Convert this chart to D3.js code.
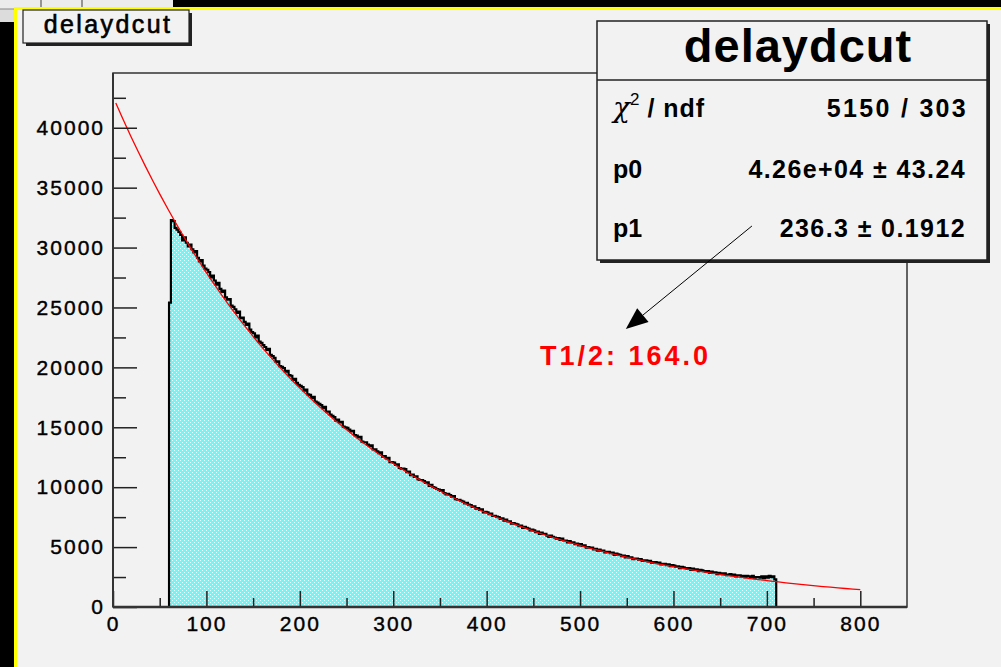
<!DOCTYPE html>
<html>
<head>
<meta charset="utf-8">
<script src="https://cdn.jsdelivr.net/npm/d3@7"></script>
<style>
  body { margin: 0; background: #f2f2f2; }
  svg { display: block; font-family: "Liberation Sans", Arial, sans-serif; }
</style>
</head>
<body>
<div id="chart"></div>
<script>
// histogram "delaydcut" : bins of width 2 starting at 60
var binLow = 60, binWidth = 2;
var counts = [
  25400, 32300, 32200, 31650, 31500,
  31300, 31050, 30600, 30850, 30400,
  30100, 30250, 29850, 29600, 29700,
  29150, 28850, 28950, 28500, 28250,
  28150, 27950, 27500, 27650, 27250,
  26900, 27050, 26550, 26300, 26400,
  25850, 25650, 25700, 25150, 25050,
  24850, 24550, 24650, 24100, 24150,
  23800, 23550, 23650, 23150, 22950,
  22850, 22500, 22650, 22150, 22050,
  21850, 21700, 21450, 21550, 21050,
  20950, 20800, 20450, 20500, 20100,
  20050, 19950, 19650, 19700, 19350,
  19300, 18950, 19050, 18700, 18550,
  18450, 18350, 18050, 18150, 17750,
  17700, 17450, 17550, 17150, 17050,
  16950, 16850, 16600, 16700, 16300,
  16300, 16050, 15950, 15850, 15550,
  15650, 15400, 15450, 15050, 15000,
  14950, 14800, 14650, 14700, 14350,
  14300, 14150, 14200, 13800, 13750,
  13750, 13550, 13450, 13500, 13150,
  13150, 13000, 12850, 12900, 12550,
  12600, 12400, 12450, 12100, 12100,
  12050, 11850, 11900, 11600, 11550,
  11550, 11500, 11250, 11300, 11000,
  11050, 10850, 10900, 10650, 10600,
  10600, 10500, 10350, 10400, 10100,
  10200, 10000,  9950,  9850,  9800,
   9700,  9750,  9500,  9400,  9450,
   9350,  9200,  9250,  9000,  8950,
   8950,  8850,  8800,  8650,  8700,
   8550,  8500,  8350,  8400,  8200,
   8250,  8100,  8150,  7900,  7950,
   7900,  7750,  7800,  7600,  7600,
   7550,  7500,  7350,  7400,  7200,
   7300,  7150,  7150,  6950,  7000,
   6950,  6900,  6750,  6800,  6600,
   6700,  6600,  6550,  6400,  6450,
   6400,  6250,  6300,  6100,  6200,
   6100,  6100,  5950,  5850,  5950,
   5850,  5800,  5700,  5750,  5600,
   5700,  5550,  5550,  5400,  5500,
   5400,  5400,  5250,  5300,  5150,
   5250,  5100,  5150,  4950,  5000,
   4950,  4950,  4800,  4850,  4700,
   4800,  4700,  4700,  4550,  4600,
   4600,  4500,  4550,  4350,  4450,
   4400,  4350,  4250,  4300,  4150,
   4250,  4150,  4150,  4000,  4050,
   4050,  3950,  4000,  3850,  3900,
   3900,  3800,  3850,  3700,  3750,
   3750,  3650,  3700,  3550,  3600,
   3600,  3500,  3550,  3400,  3500,
   3450,  3350,  3400,  3250,  3350,
   3300,  3250,  3200,  3250,  3100,
   3200,  3100,  3150,  3000,  3100,
   3050,  3000,  2950,  3000,  2850,
   2950,  2850,  2900,  2750,  2850,
   2800,  2750,  2800,  2650,  2700,
   2750,  2650,  2700,  2550,  2650,
   2650,  2550,  2600,  2500,  2600,
   2550,  2500,  2600,  2450,  2500,
   2500,  2450,  2550,  2400,  2550,
   2450,  2600,  2500,  2550,  2300
];

// fit: p0 * exp(-x / p1)
var fitP0 = 42600, fitP1 = 236.3;
var fitFrom = 3, fitTo = 800;

var xTicksMajor = [0, 100, 200, 300, 400, 500, 600, 700, 800];
var xTicksMinor = [50, 150, 250, 350, 450, 550, 650, 750];
var yTicksMajor = [0, 5000, 10000, 15000, 20000, 25000, 30000, 35000, 40000];
var yTicksMinor = [2500, 7500, 12500, 17500, 22500, 27500, 32500, 37500, 42500];

var histTitle = "delaydcut";
var statsRows = [
  ["p0", "4.26e+04 \u00b1 43.24"],
  ["p1", "236.3 \u00b1 0.1912"]
];
var chiText = "5150 / 303";
var halfLifeLabel = "T1/2: 164.0";

/*.............................................................................
          canvas + window chrome
..............................................................................*/
var W = 1001, H = 667;
var svg = d3.select("#chart").append("svg")
    .attr("width", W)
    .attr("height", H);

svg.append("rect").attr("width", W).attr("height", H).attr("fill", "#f2f2f2");

// toolbar strip at the top, black border left, yellow canvas border
svg.append("rect").attr("x", 0).attr("y", 0).attr("width", W).attr("height", 7).attr("fill", "#000");
svg.append("rect").attr("x", 0).attr("y", 0).attr("width", 173).attr("height", 9).attr("fill", "#ececec");
svg.append("line").attr("x1", 41).attr("x2", 41).attr("y1", 0).attr("y2", 7).attr("stroke", "#777").attr("stroke-width", 1.5);
svg.append("line").attr("x1", 82).attr("x2", 82).attr("y1", 0).attr("y2", 7).attr("stroke", "#777").attr("stroke-width", 1.5);
svg.append("rect").attr("x", 0).attr("y", 9).attr("width", 14).attr("height", 13).attr("fill", "#dcdcdc");
svg.append("line").attr("x1", 0).attr("x2", 14).attr("y1", 9).attr("y2", 9).attr("stroke", "#888");
svg.append("rect").attr("x", 0).attr("y", 22).attr("width", 14).attr("height", H - 22).attr("fill", "#000");
svg.append("rect").attr("x", 14).attr("y", 7).attr("width", W - 14).attr("height", 3).attr("fill", "#ffff00");
svg.append("rect").attr("x", 14).attr("y", 7).attr("width", 3).attr("height", H - 7).attr("fill", "#ffff00");

/*.............................................................................
          frame + scales
..............................................................................*/
var frame = { left: 113, top: 73, right: 907, bottom: 607 };

var x = d3.scaleLinear().domain([0, 850]).range([frame.left, frame.right]);
var y = d3.scaleLinear().domain([0, 44570]).range([frame.bottom, frame.top]);

var defs = svg.append("defs");
var pat = defs.append("pattern")
    .attr("id", "dots")
    .attr("patternUnits", "userSpaceOnUse")
    .attr("width", 4).attr("height", 4);
pat.append("rect").attr("width", 4).attr("height", 4).attr("fill", "#66fafa");
pat.append("rect").attr("x", 0).attr("y", 0).attr("width", 1).attr("height", 1).attr("fill", "#f4ffff");
pat.append("rect").attr("x", 2).attr("y", 2).attr("width", 1).attr("height", 1).attr("fill", "#f4ffff");

// frame box (top / right thin)
svg.append("rect")
    .attr("x", frame.left).attr("y", frame.top)
    .attr("width", frame.right - frame.left).attr("height", frame.bottom - frame.top)
    .attr("fill", "#f2f2f2")
    .attr("stroke", "#333")
    .attr("stroke-width", 1.5);

/*.............................................................................
          histogram
..............................................................................*/
var bins = counts.map(function(c, i) { return { x: binLow + i * binWidth, v: c }; });
var binHigh = binLow + counts.length * binWidth;

var areaPts = bins.concat([{ x: binHigh, v: counts[counts.length - 1] }]);
svg.append("path")
    .datum(areaPts)
    .attr("fill", "url(#dots)")
    .attr("d", d3.area()
        .curve(d3.curveStepAfter)
        .x(function(d) { return x(d.x); })
        .y0(y(0))
        .y1(function(d) { return y(d.v); }));

var outlinePts = [{ x: binLow, v: 0 }].concat(areaPts).concat([{ x: binHigh, v: 0 }]);
svg.append("path")
    .datum(outlinePts)
    .attr("fill", "none")
    .attr("stroke", "#000")
    .attr("stroke-width", 2.2)
    .attr("stroke-linejoin", "miter")
    .attr("d", d3.line()
        .curve(d3.curveStepAfter)
        .x(function(d) { return x(d.x); })
        .y(function(d) { return y(d.v); }));

// fit curve, sampled like ROOT does (100 steps)
var fitPts = d3.range(0, 101).map(function(i) {
  var xv = fitFrom + (fitTo - fitFrom) * i / 100;
  return [xv, fitP0 * Math.exp(-xv / fitP1)];
});
svg.append("path")
    .datum(fitPts)
    .attr("fill", "none")
    .attr("stroke", "#ff0000")
    .attr("stroke-width", 1.3)
    .attr("d", d3.line()
        .x(function(d) { return x(d[0]); })
        .y(function(d) { return y(d[1]); }));

/*.............................................................................
          axes (ticks drawn inside the frame)
..............................................................................*/
function styleAxis(g) {
  g.select(".domain").remove();
  g.selectAll(".tick line").attr("stroke", "#222").attr("stroke-width", 1.5);
  g.selectAll(".tick text")
      .attr("fill", "#000")
      .attr("stroke", "#000")
      .attr("stroke-width", 0.4)
      .style("font-size", "21px")
      .style("letter-spacing", "2px");
}

svg.append("g")
    .attr("transform", "translate(0," + frame.bottom + ")")
    .call(d3.axisBottom(x).tickValues(xTicksMinor).tickSize(-9).tickFormat(""))
    .call(styleAxis);
svg.append("g")
    .attr("transform", "translate(0," + frame.bottom + ")")
    .call(d3.axisBottom(x).tickValues(xTicksMajor).tickSize(-16).tickPadding(9).tickFormat(d3.format("d")))
    .call(styleAxis);

svg.append("g")
    .attr("transform", "translate(" + frame.left + ",0)")
    .call(d3.axisLeft(y).tickValues(yTicksMinor).tickSize(-13).tickFormat(""))
    .call(styleAxis);
svg.append("g")
    .attr("transform", "translate(" + frame.left + ",0)")
    .call(d3.axisLeft(y).tickValues(yTicksMajor).tickSize(-24).tickPadding(8).tickFormat(d3.format("d")))
    .call(styleAxis);

// axis lines
svg.append("line")
    .attr("x1", frame.left).attr("x2", frame.right)
    .attr("y1", frame.bottom).attr("y2", frame.bottom)
    .attr("stroke", "#333").attr("stroke-width", 2.5);
svg.append("line")
    .attr("x1", frame.left).attr("x2", frame.left)
    .attr("y1", frame.top).attr("y2", frame.bottom)
    .attr("stroke", "#333").attr("stroke-width", 2);

/*.............................................................................
          title box
..............................................................................*/
svg.append("rect").attr("x", 26).attr("y", 13).attr("width", 166).attr("height", 33).attr("fill", "#222");
svg.append("rect").attr("x", 23).attr("y", 10).attr("width", 166).attr("height", 33)
    .attr("fill", "#f2f2f2").attr("stroke", "#222").attr("stroke-width", 1.2);
svg.append("text")
    .attr("x", 108).attr("y", 33)
    .attr("text-anchor", "middle")
    .attr("stroke", "#000").attr("stroke-width", 0.6)
    .style("font-size", "25px")
    .style("letter-spacing", "2.4px")
    .text(histTitle);

/*.............................................................................
          stats box
..............................................................................*/
var sb = { x: 597, y: 21, w: 390, h: 239 };
svg.append("rect").attr("x", sb.x + 3).attr("y", sb.y + 3).attr("width", sb.w).attr("height", sb.h).attr("fill", "#222");
svg.append("rect").attr("x", sb.x).attr("y", sb.y).attr("width", sb.w).attr("height", sb.h)
    .attr("fill", "#f2f2f2").attr("stroke", "#222").attr("stroke-width", 1.5);
svg.append("line").attr("x1", sb.x).attr("x2", sb.x + sb.w).attr("y1", 80).attr("y2", 80)
    .attr("stroke", "#222").attr("stroke-width", 1.5);

svg.append("text")
    .attr("x", 798).attr("y", 62)
    .attr("text-anchor", "middle")
    .style("font-size", "47px").style("font-weight", "bold").style("letter-spacing", "1px")
    .text(histTitle);

var chiLabel = svg.append("text")
    .attr("x", 613).attr("y", 117)
    .style("font-size", "25px").style("font-weight", "bold");
chiLabel.append("tspan").style("font-weight", "normal").style("font-size", "28px").style("font-family", "'DejaVu Serif', serif").style("font-style", "italic").text("\u03c7");
chiLabel.append("tspan").attr("dy", -12).style("font-size", "17px").style("font-weight", "normal").text("2");
chiLabel.append("tspan").attr("dy", 12).style("letter-spacing", "1px").text(" / ndf");

svg.append("text")
    .attr("x", 968).attr("y", 117)
    .attr("text-anchor", "end")
    .style("font-size", "25px").style("font-weight", "bold").style("letter-spacing", "2.3px")
    .text(chiText);

var rowY = [178, 237];
statsRows.forEach(function(r, i) {
  svg.append("text")
      .attr("x", 613).attr("y", rowY[i])
      .style("font-size", "25px").style("font-weight", "bold")
      .text(r[0]);
  svg.append("text")
      .attr("x", 966).attr("y", rowY[i])
      .attr("text-anchor", "end")
      .style("font-size", "25px").style("font-weight", "bold").style("letter-spacing", "1.4px")
      .text(r[1]);
});

/*.............................................................................
          arrow + half-life label
..............................................................................*/
var arrowFrom = [684, 31800], arrowTo = [549, 23200];
var ax1 = x(arrowFrom[0]), ay1 = y(arrowFrom[1]);
var ax2 = x(arrowTo[0]), ay2 = y(arrowTo[1]);
var ang = Math.atan2(ay2 - ay1, ax2 - ax1);
var headLen = 22, headHalf = 9;
var bx = ax2 - headLen * Math.cos(ang), by = ay2 - headLen * Math.sin(ang);

svg.append("line")
    .attr("x1", ax1).attr("y1", ay1).attr("x2", bx).attr("y2", by)
    .attr("stroke", "#000").attr("stroke-width", 1);
svg.append("path")
    .attr("d", "M" + ax2 + "," + ay2 +
               "L" + (bx + headHalf * Math.sin(ang)) + "," + (by - headHalf * Math.cos(ang)) +
               "L" + (bx - headHalf * Math.sin(ang)) + "," + (by + headHalf * Math.cos(ang)) + "Z")
    .attr("fill", "#000");

svg.append("text")
    .attr("x", x(457)).attr("y", y(20200))
    .attr("fill", "#ff0000")
    .style("font-size", "27px").style("font-weight", "bold").style("letter-spacing", "3px")
    .text(halfLifeLabel);
</script>
</body>
</html>
